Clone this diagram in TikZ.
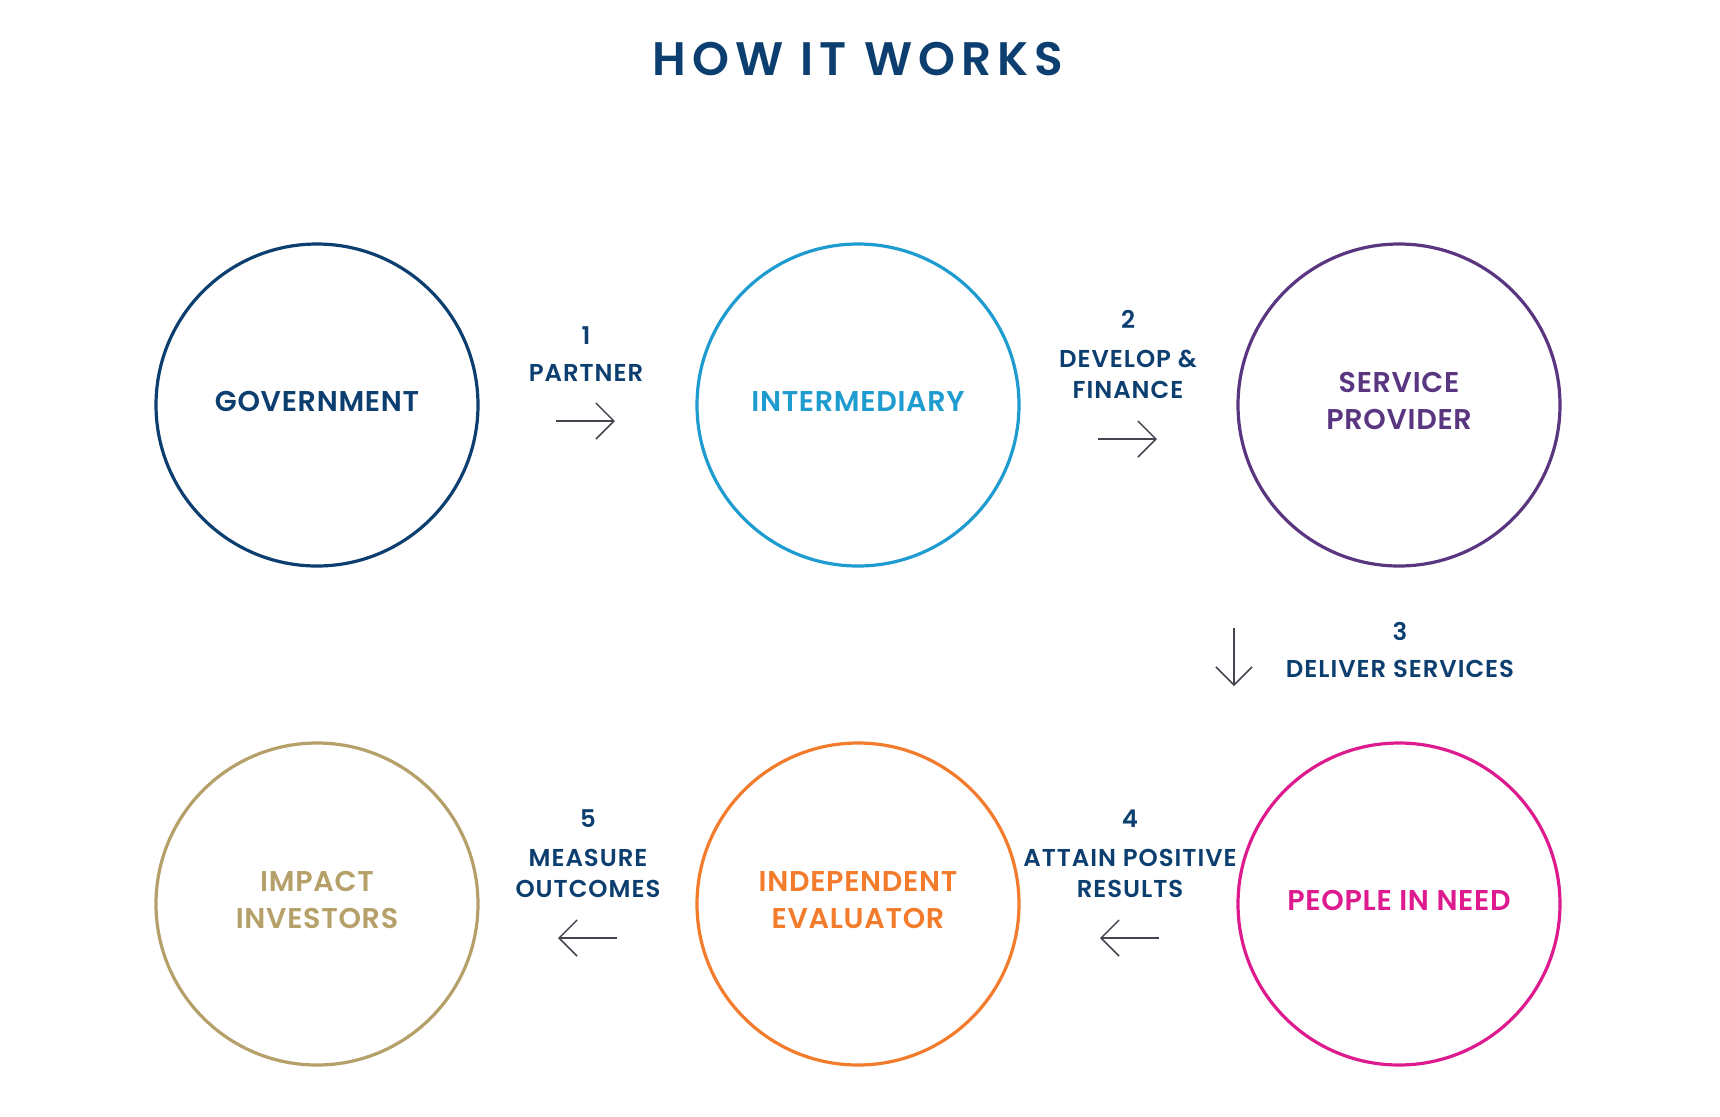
\documentclass[tikz,border=0pt]{standalone}
\usepackage{fontspec}
\setmainfont{Poppins}[BoldFont={Poppins SemiBold}]
\usetikzlibrary{arrows.meta}
\usetikzlibrary{positioning}

\definecolor{navy}{HTML}{0C3F6F}
\definecolor{cyanblue}{HTML}{1E9BCF}
\definecolor{plum}{HTML}{5A3681}
\definecolor{magenta}{HTML}{DD1A8E}
\definecolor{tangerine}{HTML}{F27B2C}
\definecolor{khaki}{HTML}{B6A06A}
\definecolor{arrowgray}{HTML}{454550}

\begin{document}
\begin{tikzpicture}[x=0.5pt, y=-0.5pt,
    stage/.style={draw, circle, line width=1.6pt, minimum size=161pt, inner sep=0pt, text depth=4pt,
      font=\fontsize{14.3}{18.5}\selectfont\bfseries\addfontfeatures{LetterSpace=2.5}, align=center},
    steplabel/.style={text=navy, font=\fontsize{12.2}{15.5}\selectfont\bfseries\addfontfeatures{LetterSpace=4}, align=center},
    flow/.style={draw=arrowgray, line width=0.75pt, -{Straight Barb[length=9pt, width=18pt]}}]
    \useasboundingbox (0,0) rectangle (1720,1116);

    \node[text=navy, font=\fontsize{23.5}{28}\selectfont\bfseries\addfontfeatures{LetterSpace=13}] (title) at (858,59) {HOW IT WORKS};

    % the six parties
    \node[stage, draw=navy, text=navy]           (gov)   at (317,405) {GOVERNMENT};
    \node[stage, draw=cyanblue, text=cyanblue]   (inter) at (858,405) {INTERMEDIARY};
    \node[stage, draw=plum, text=plum]           (prov)  at (1399,405) {SERVICE\\PROVIDER};
    \node[stage, draw=khaki, text=khaki]         (inv)   at (317,904) {IMPACT\\INVESTORS};
    \node[stage, draw=tangerine, text=tangerine] (eval)  at (858,904) {INDEPENDENT\\EVALUATOR};
    \node[stage, draw=magenta, text=magenta]     (need)  at (1399,904) {PEOPLE IN NEED};

    % steps
    \node[steplabel] (n1) at (586,336) {1};
    \node[steplabel] (t1) at (586,373) {PARTNER};
    \node[steplabel] (n2) at (1128,319) {2};
    \node[steplabel] (t2) at (1128,374) {DEVELOP \&\\FINANCE};
    \node[steplabel] (n3) at (1400,631) {3};
    \node[steplabel] (t3) at (1400,669) {DELIVER SERVICES};
    \node[steplabel] (n4) at (1130,819) {4};
    \node[steplabel] (t4) at (1130,873) {ATTAIN POSITIVE\\RESULTS};
    \node[steplabel] (n5) at (588,819) {5};
    \node[steplabel] (t5) at (588,873) {MEASURE\\OUTCOMES};

    \coordinate (a1s) at (556,421);  \coordinate (a1e) at (615,421);
    \coordinate (a2s) at (1098,439); \coordinate (a2e) at (1157,439);
    \coordinate (a3s) at (1234,628); \coordinate (a3e) at (1234,686);
    \coordinate (a4s) at (1159,938); \coordinate (a4e) at (1100,938);
    \coordinate (a5s) at (617,938);  \coordinate (a5e) at (558,938);

    \draw[flow] (a1s) -- (a1e);
    \draw[flow] (a2s) -- (a2e);
    \draw[flow] (a3s) -- (a3e);
    \draw[flow] (a4s) -- (a4e);
    \draw[flow] (a5s) -- (a5e);
\end{tikzpicture}
\end{document}
